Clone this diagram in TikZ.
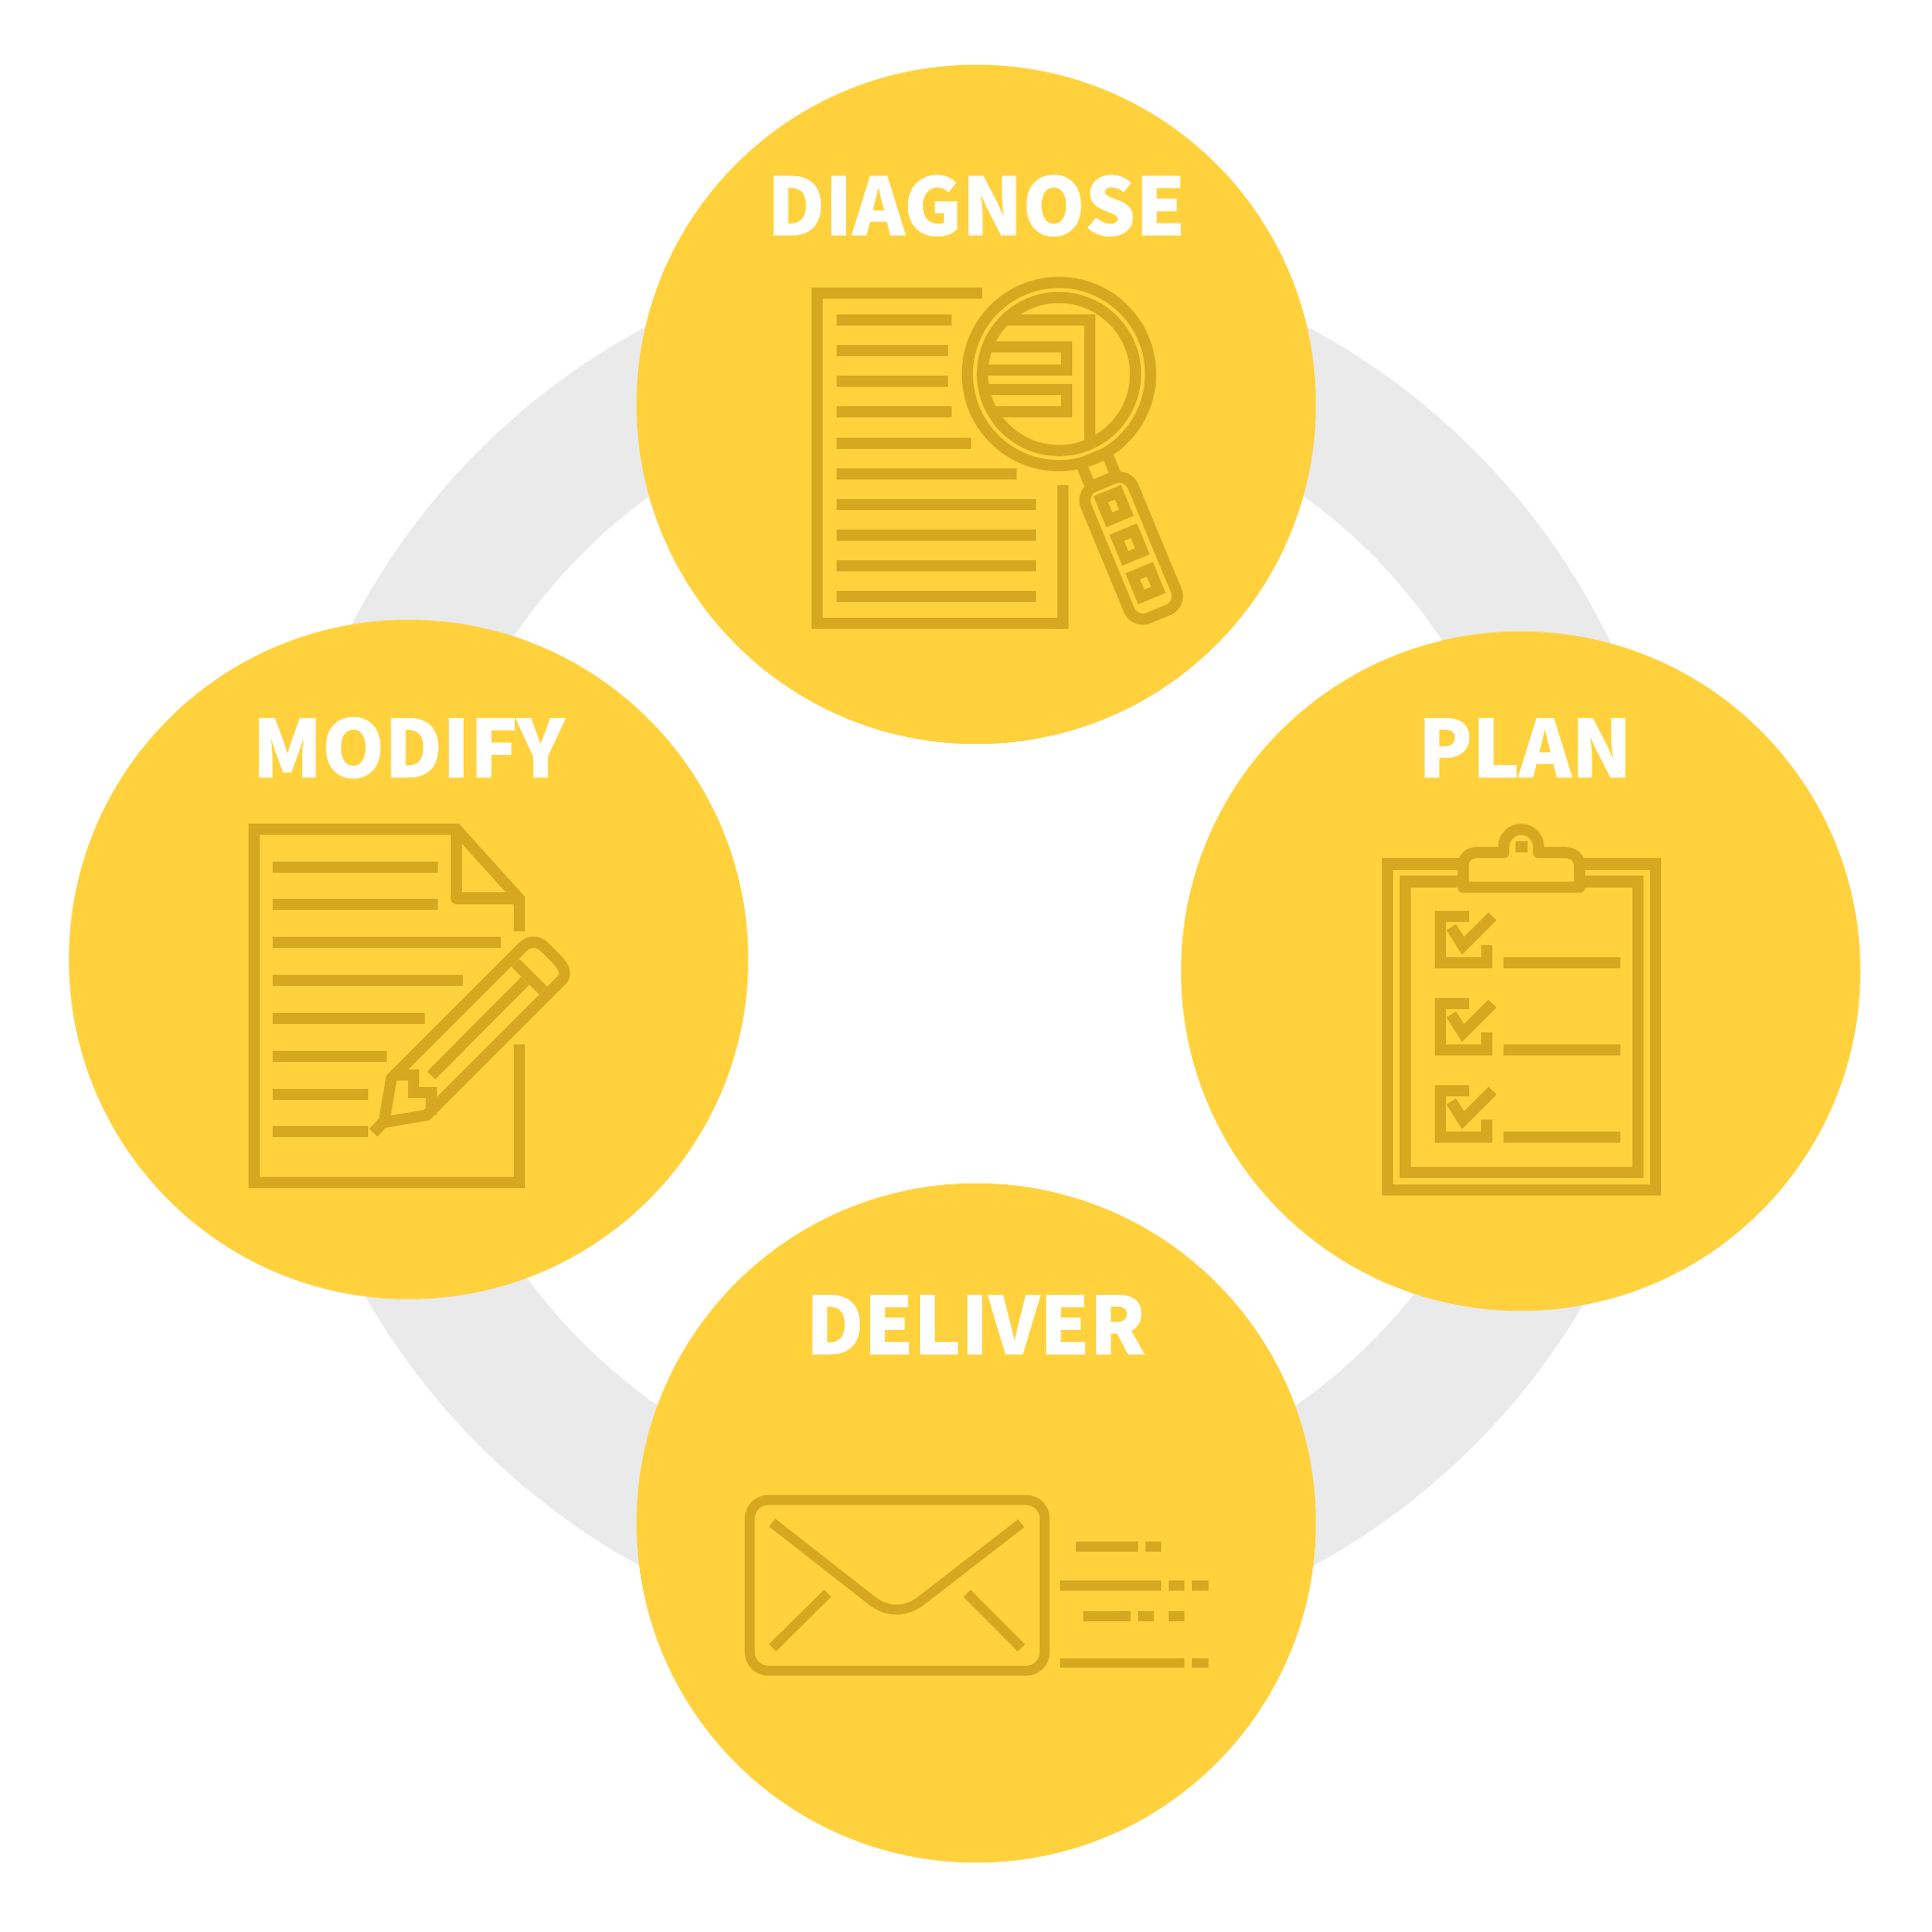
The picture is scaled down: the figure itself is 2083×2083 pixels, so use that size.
\documentclass[tikz,border=0pt]{standalone}
\usepackage{fontspec}
\newfontfamily\stagefont[FakeBold=0.6]{Noto Sans CJK SC Black}
\definecolor{stageyellow}{HTML}{FFD13D}
\definecolor{icongold}{HTML}{D6A820}
\definecolor{ringgrey}{HTML}{EAEAEA}
\tikzstyle{ring}=[circle,
	draw=ringgrey,
	line width=1.57cm,
	outer sep=0pt,
	inner sep=0pt,
	minimum size=13.59cm]
\tikzstyle{stage}=[circle,
	fill=stageyellow,
	outer sep=0pt,
	inner sep=0pt,
	minimum size=7.32cm]
\tikzstyle{stagelabel}=[anchor=base,
	inner sep=0pt,
	text=white,
	font=\stagefont\fontsize{24.3}{24.3}\selectfont]
\tikzstyle{iconline}=[draw=icongold,
	line width=0.12cm]
\tikzstyle{mailline}=[draw=icongold,
	line width=0.107cm]

\begin{document}
\begin{tikzpicture}[x=0.01cm,y=-0.01cm]
	\path[use as bounding box,fill=white] (0,0) rectangle (2083,2083);

	\node (loop) [ring] at (1053,1022) {};
	\node (diagnose) [stage] at (1052.5,436) {};
	\node (modify) [stage] at (440.5,1034.5) {};
	\node (plan) [stage] at (1639.5,1047) {};
	\node (deliver) [stage] at (1052.5,1642) {};

	\node (diagnoselabel) [stagelabel] at (1052.5,253.6) {DIAGNOSE};
	\node (modifylabel) [stagelabel] at (440.5,838) {MODIFY};
	\node (planlabel) [stagelabel] at (1644,838) {PLAN};
	\node (deliverlabel) [stagelabel] at (1052,1460) {DELIVER};

	\draw[iconline] (1059,315.8) -- (880.8,315.8) -- (880.8,671.8) -- (1145.8,671.8) -- (1145.8,522.7);
	\draw[iconline] (901.7,345) -- (1026,345);
	\draw[iconline] (901.7,378.3) -- (1022,378.3);
	\draw[iconline] (901.7,411.3) -- (1022,411.3);
	\draw[iconline] (901.7,444.3) -- (1026,444.3);
	\draw[iconline] (901.7,477.7) -- (1046.7,477.7);
	\draw[iconline] (901.7,510.7) -- (1096,510.7);
	\draw[iconline] (901.7,543.7) -- (1117,543.7);
	\draw[iconline] (901.7,577) -- (1117,577);
	\draw[iconline] (901.7,610) -- (1117,610);
	\draw[iconline] (901.7,643) -- (1117,643);
	\begin{scope}
		\clip (1141.7,403.3) circle [radius=82.5];
		\draw[iconline] (1040,344.8) -- (1174.8,344.8) -- (1174.8,500);
		\draw[iconline] (1040,374.2) -- (1149.8,374.2) -- (1149.8,398.8) -- (1040,398.8);
		\draw[iconline] (1040,419.8) -- (1149.8,419.8) -- (1149.8,444.5) -- (1040,444.5);
	\end{scope}
	\draw[iconline] (1141.7,403.3) circle [radius=98.8];
	\draw[iconline] (1141.7,403.3) circle [radius=82.5];
	\begin{scope}[shift={(1141.7,403.3)},rotate=22.5]
		\draw[iconline] (-15,98) rectangle (15,125);
		\draw[iconline,rounded corners=0.16cm] (-27.5,126.5) rectangle (27.5,280);
		\draw[iconline] (-10,142) rectangle (10,166);
		\draw[iconline] (-10,187) rectangle (10,211);
		\draw[iconline] (-10,232) rectangle (10,256);
	\end{scope}

	\draw[iconline] (559.8,1004) -- (559.8,969.1) -- (492.2,894.2) -- (274.2,894.2) -- (274.2,1274.8) -- (559.8,1274.8) -- (559.8,1126);
	\draw[iconline,line join=round] (491.8,894.2) -- (491.8,968.5) -- (559.8,968.5);
	\draw[iconline] (294.3,934.7) -- (471.7,934.7);
	\draw[iconline] (294.3,975.3) -- (471.7,975.3);
	\draw[iconline] (294.3,1016.3) -- (540,1016.3);
	\draw[iconline] (294.3,1057) -- (499,1057);
	\draw[iconline] (294.3,1098) -- (458,1098);
	\draw[iconline] (294.3,1139) -- (417,1139);
	\draw[iconline] (294.3,1179.7) -- (397,1179.7);
	\draw[iconline] (294.3,1220.3) -- (397,1220.3);
	\draw[iconline] (414,1210) -- (422,1162.7) -- (563.3,1021.3) .. controls (569,1015.5) and (578,1012.5) .. (587,1021) -- (600,1034) .. controls (609,1043) and (611,1051) .. (605.7,1056.7) -- (460,1202.3) -- cycle;
	\draw[iconline] (414,1209) -- (402.5,1221.2);
	\draw[iconline] (422,1159.2) -- (445.8,1159.2) -- (445.8,1178.2) -- (464.8,1178.2) -- (464.8,1202);
	\draw[iconline] (555.7,1038) -- (585.7,1068);
	\draw[iconline] (465,1159.5) -- (566.2,1057.5);

	\draw[iconline] (1495.8,931.5) rectangle (1784.5,1282.8);
	\draw[iconline] (1514.8,950.5) rectangle (1765.7,1263.8);
	\draw[iconline,fill=stageyellow,line join=round] (1577.5,956.7) -- (1577.5,932) .. controls (1577.5,925) and (1584,919.2) .. (1592,919.2) -- (1621.2,919.2) -- (1621.2,913) .. controls (1621.2,902.6) and (1629.6,894.2) .. (1640,894.2) .. controls (1650.4,894.2) and (1658.8,902.6) .. (1658.8,913) -- (1658.8,919.2) -- (1688,919.2) .. controls (1696,919.2) and (1703,925) .. (1703,932) -- (1703,956.7) -- cycle;
	\fill[icongold] (1633.7,906.7) rectangle (1646.7,919);
	\draw[iconline] (1584,987.8) -- (1552.5,987.8) -- (1552.5,1038.2) -- (1602.5,1038.2) -- (1602.5,1019);
	\draw[iconline] (1564.7,999.7) -- (1577.3,1019.7) -- (1609,988);
	\draw[iconline] (1621,1038.2) -- (1747,1038.2);
	\draw[iconline] (1584,1081.8) -- (1552.5,1081.8) -- (1552.5,1132.2) -- (1602.5,1132.2) -- (1602.5,1113);
	\draw[iconline] (1564.7,1093.7) -- (1577.3,1113.7) -- (1609,1082);
	\draw[iconline] (1621,1132.2) -- (1747,1132.2);
	\draw[iconline] (1584,1175.8) -- (1552.5,1175.8) -- (1552.5,1226.2) -- (1602.5,1226.2) -- (1602.5,1207);
	\draw[iconline] (1564.7,1187.7) -- (1577.3,1207.7) -- (1609,1176);
	\draw[iconline] (1621,1226.2) -- (1747,1226.2);

	\draw[mailline,rounded corners=0.2cm] (808.3,1617.2) rectangle (1126.3,1801.3);
	\draw[mailline] (832.6,1641.7) -- (942.1,1727.3) .. controls (957.4,1738) and (975.6,1738) .. (991.1,1727.3) -- (1101,1642.3);
	\draw[mailline] (832.9,1776.5) -- (892.2,1717.8);
	\draw[mailline] (1042.7,1718) -- (1101.2,1776.7);
	\draw[mailline] (1160,1667.3) -- (1227,1667.3);
	\draw[mailline] (1235.3,1667.3) -- (1252.3,1667.3);
	\draw[mailline] (1143,1709.3) -- (1252.3,1709.3);
	\draw[mailline] (1260,1709.3) -- (1277.3,1709.3);
	\draw[mailline] (1285.3,1709.3) -- (1302.7,1709.3);
	\draw[mailline] (1168.3,1742.7) -- (1219,1742.7);
	\draw[mailline] (1227,1742.7) -- (1244,1742.7);
	\draw[mailline] (1260,1742.7) -- (1277.3,1742.7);
	\draw[mailline] (1143,1793) -- (1277.3,1793);
	\draw[mailline] (1285.3,1793) -- (1302.7,1793);
\end{tikzpicture}
\end{document}
